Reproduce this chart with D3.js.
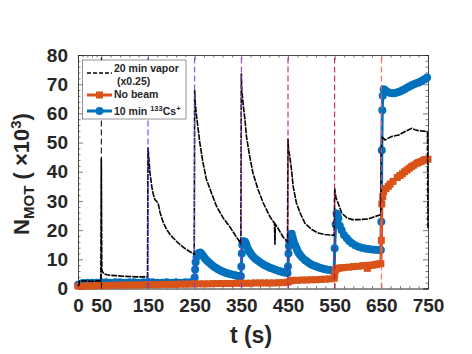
<!DOCTYPE html>
<html>
<head>
<meta charset="utf-8">
<script src="https://cdn.jsdelivr.net/npm/d3@7"></script>
<style>
  body { margin: 0; background: #fff; }
  text { font-family: "Liberation Sans", Arial, sans-serif; font-weight: bold; fill: #262626; }
</style>
</head>
<body>
<div id="chart"></div>
<script>
// 20 min vapor (x0.25)
var vaporT = [0, 2, 3, 10, 20, 30, 40, 49, 50, 51, 53, 56, 62, 70, 80, 95, 110, 125, 140, 149,
  150, 152, 154, 158, 161, 165, 168, 172, 176, 183, 190, 197, 204, 211, 219, 226, 233, 240, 249,
  250, 251, 254, 258, 261, 268, 275, 286, 297, 311, 326, 340, 349,
  350, 351, 354, 358, 361, 368, 375, 386, 397, 411, 421, 422, 423, 426, 440, 449,
  450, 451, 454, 458, 461, 468, 476, 486, 501, 515, 529, 549,
  550, 551, 553, 558, 565, 576, 587, 601, 622, 637, 649,
  650, 651, 658, 672, 687, 701, 715, 722, 729, 747, 749, 750];
var vaporN = [0.8, 1.2, 2.5, 2.6, 2.6, 2.5, 2.6, 2.6, 44.6, 6.5, 5.6, 5.0, 4.7, 4.5, 4.4, 4.2, 4.1, 4.0, 4.0, 4.0,
  48.4, 44.1, 40.0, 35.0, 32.5, 30.4, 30.0, 29.0, 25.9, 22.5, 20.2, 18.6, 17.3, 16.2, 15.0, 14.1, 13.3, 12.6, 11.8,
  68.0, 64.0, 59.0, 54.0, 50.0, 43.0, 37.5, 32.7, 28.1, 24.2, 21.0, 17.5, 15.5,
  73.7, 68.0, 63.0, 57.5, 52.0, 45.2, 39.5, 33.8, 29.3, 24.7, 22.3, 15.0, 22.0, 21.3, 17.5, 16.0,
  51.4, 48.0, 45.0, 40.0, 35.0, 29.3, 25.9, 22.4, 20.2, 19.0, 18.5, 18.2,
  34.3, 33.0, 31.0, 29.0, 25.9, 24.2, 23.6, 23.6, 23.8, 24.7, 25.3,
  47.5, 52.0, 50.9, 52.1, 52.6, 53.8, 54.9, 54.4, 54.1, 53.8, 53.5, 20.5];

// No beam
var noBeamT = [0, 10, 20, 30, 40, 50, 60, 70, 80, 90, 100, 110, 120, 130, 140, 150, 160, 170, 180, 190,
  200, 210, 220, 230, 240, 250, 260, 270, 280, 290, 300, 310, 320, 330, 340, 350, 360, 370, 380, 390,
  400, 410, 420, 430, 440, 450, 455, 460, 470, 480, 490, 500, 510, 520, 530, 540, 549,
  550, 551, 553, 556, 560, 565, 570, 580, 590, 600, 610, 618, 620, 625, 630, 635, 640, 645, 649,
  650, 651, 653, 655, 660, 665, 669, 675, 684, 690, 695, 700, 705, 710, 715, 720, 726, 730, 735, 740, 744, 750];
var noBeamN = [0.8, 0.8, 0.9, 0.9, 1.0, 1.0, 1.0, 1.1, 1.1, 1.1, 1.2, 1.2, 1.2, 1.2, 1.3, 1.3, 1.3, 1.3, 1.4, 1.4,
  1.4, 1.4, 1.5, 1.5, 1.5, 1.6, 1.6, 1.6, 1.6, 1.7, 1.7, 1.7, 1.7, 1.7, 1.8, 1.8, 1.8, 1.8, 1.9, 1.9,
  1.9, 1.9, 1.9, 2.0, 2.0, 2.2, 2.6, 2.8, 2.8, 2.9, 2.9, 3.0, 3.0, 3.1, 3.2, 3.3, 3.5,
  4.5, 6.0, 6.6, 6.9, 7.0, 7.1, 7.2, 7.3, 7.5, 7.6, 7.8, 7.9, 6.9, 7.9, 8.0, 8.1, 8.3, 8.4, 8.5,
  16.5, 29.0, 31.5, 33.2, 34.2, 35.0, 35.8, 36.7, 38.0, 38.7, 39.3, 40.0, 40.6, 41.2, 41.8, 42.3, 42.9, 43.2, 43.5, 43.9, 44.2, 44.3];

// 10 min 133Cs+
var csT = [0, 10, 20, 30, 40, 50, 60, 70, 80, 90, 100, 110, 120, 130, 140, 150, 160, 170, 180, 190,
  200, 210, 220, 230, 240, 249,
  250, 251, 252, 254, 256, 258, 260, 262, 264, 266, 269, 272, 276, 280, 285, 290, 295, 300, 305, 310, 315, 320, 325, 330, 335, 340, 345, 349,
  350, 351, 352, 353, 355, 358, 360, 362, 365, 368, 371, 375, 380, 385, 390, 395, 400, 405, 410, 415, 420, 425, 430, 435, 440, 445, 449,
  450, 451, 452, 453, 456, 458, 460, 462, 465, 468, 470, 473, 476, 480, 486, 490, 495, 500, 505, 510, 515, 520, 525, 530, 535, 540, 545, 549,
  550, 552, 554, 556, 558, 561, 565, 570, 576, 581, 587, 594, 601, 608, 615, 622, 630, 637, 644, 649,
  650, 651, 652, 653, 655, 658, 660, 665, 670, 675, 680, 685, 690, 695, 700, 705, 710, 715, 720, 725, 730, 735, 740, 744, 748];
var csN = [1.3, 1.9, 2.0, 2.0, 2.0, 2.1, 2.1, 2.0, 2.1, 2.1, 2.0, 2.1, 2.1, 2.0, 2.1, 2.2, 2.1, 2.0, 2.0, 2.1,
  2.0, 2.1, 2.0, 2.1, 2.1, 2.2,
  3.8, 6.5, 9.0, 10.8, 11.5, 12.0, 12.2, 12.3, 12.0, 11.6, 11.0, 10.3, 9.6, 9.0, 8.3, 7.6, 7.1, 6.6, 6.2, 5.8, 5.5, 5.2, 5.0, 4.8, 4.6, 4.4, 4.3, 4.2,
  7.5, 12.0, 15.0, 15.8, 16.2, 16.0, 15.3, 14.5, 13.4, 12.5, 11.7, 11.0, 10.2, 9.6, 9.0, 8.5, 8.0, 7.6, 7.2, 6.9, 6.6, 6.3, 6.0, 5.8, 5.6, 5.4, 5.3,
  7.5, 12.0, 14.5, 16.0, 18.4, 18.8, 17.5, 16.3, 15.0, 13.9, 13.0, 12.2, 11.5, 10.7, 9.8, 9.3, 8.7, 8.2, 7.9, 7.6, 7.3, 7.0, 6.8, 6.6, 6.4, 6.3, 6.1, 6.0,
  13.8, 22.0, 25.7, 25.0, 24.0, 21.5, 20.0, 18.3, 17.2, 16.3, 15.5, 14.8, 14.3, 14.0, 13.7, 13.5, 13.4, 13.3, 13.2, 13.2,
  22.9, 47.4, 61.1, 66.0, 68.3, 68.0, 67.5, 67.2, 67.0, 66.9, 67.0, 67.2, 67.5, 67.9, 68.3, 68.8, 69.2, 69.6, 70.0, 70.3, 70.6, 71.0, 71.4, 71.8, 72.3];

// dashed markers at the exposure times
var eventT = [50, 150, 250, 350, 450, 550, 650];
var eventColors = ["#000000", "#3b3bf5", "#6a3ee6", "#8b2fc0", "#9c0f86", "#b5105a", "#ff5a5a"];

var xTicks = [0, 50, 150, 250, 350, 450, 550, 650, 750];
var yTicks = [0, 10, 20, 30, 40, 50, 60, 70, 80];

var blue = "#0072BD", orange = "#D95319", ink = "#262626";

function zip(ts, vs) {
  return ts.map(function (t, i) { return { t: t, v: vs[i] }; });
}

var svg = d3.select("#chart").append("svg")
  .attr("width", 472)
  .attr("height", 354);

var x = d3.scaleLinear().domain([0, 750]).range([78, 428]);
var y = d3.scaleLinear().domain([0, 80]).range([288.5, 55]);

var xMinor = d3.range(10, 50, 10).concat(d3.range(70, 750, 20).filter(function (d) { return xTicks.indexOf(d) < 0; }));
var yMinor = d3.range(0, 80, 2).filter(function (d) { return d % 10 !== 0; });

function styleAxis(g) {
  g.selectAll("path, line").attr("stroke", ink).attr("stroke-width", 0.6);
  g.selectAll("text").attr("fill", ink).style("font-size", "19px").style("font-weight", "bold");
}

// major + minor ticks on all four sides, pointing inward
svg.append("g").attr("transform", "translate(0," + y(0) + ")")
  .call(d3.axisBottom(x).tickValues(xTicks).tickSizeInner(-5).tickSizeOuter(0).tickPadding(10).tickFormat(d3.format("d")))
  .call(styleAxis);
svg.append("g").attr("transform", "translate(0," + y(0) + ")")
  .call(d3.axisBottom(x).tickValues(xMinor).tickSize(-2.5).tickFormat(""))
  .call(styleAxis);
svg.append("g").attr("transform", "translate(0," + y(80) + ")")
  .call(d3.axisTop(x).tickValues(xTicks).tickSize(-5).tickFormat(""))
  .call(styleAxis);
svg.append("g").attr("transform", "translate(0," + y(80) + ")")
  .call(d3.axisTop(x).tickValues(xMinor).tickSize(-2.5).tickFormat(""))
  .call(styleAxis);
svg.append("g").attr("transform", "translate(" + x(0) + ",0)")
  .call(d3.axisLeft(y).tickValues(yTicks).tickSizeInner(-5).tickSizeOuter(0).tickPadding(10))
  .call(styleAxis);
svg.append("g").attr("transform", "translate(" + x(0) + ",0)")
  .call(d3.axisLeft(y).tickValues(yMinor).tickSize(-2.5).tickFormat(""))
  .call(styleAxis);
svg.append("g").attr("transform", "translate(" + x(750) + ",0)")
  .call(d3.axisRight(y).tickValues(yTicks).tickSize(-5).tickFormat(""))
  .call(styleAxis);
svg.append("g").attr("transform", "translate(" + x(750) + ",0)")
  .call(d3.axisRight(y).tickValues(yMinor).tickSize(-2.5).tickFormat(""))
  .call(styleAxis);

var line = d3.line()
  .x(function (d) { return x(d.t); })
  .y(function (d) { return y(d.v); });

var cs = zip(csT, csN), noBeam = zip(noBeamT, noBeamN), vapor = zip(vaporT, vaporN);

// Cs+ series
svg.append("path").datum(cs)
  .attr("d", line).attr("fill", "none")
  .attr("stroke", blue).attr("stroke-width", 3);
svg.append("g").selectAll("circle")
  .data(cs)
.enter().append("circle")
  .attr("cx", function (d) { return x(d.t); })
  .attr("cy", function (d) { return y(d.v); })
  .attr("r", 4)
  .attr("fill", blue);

// no beam series
svg.append("path").datum(noBeam)
  .attr("d", line).attr("fill", "none")
  .attr("stroke", orange).attr("stroke-width", 3);
svg.append("g").selectAll("rect")
  .data(noBeam)
.enter().append("rect")
  .attr("x", function (d) { return x(d.t) - 3.5; })
  .attr("y", function (d) { return y(d.v) - 3.5; })
  .attr("width", 7).attr("height", 7)
  .attr("fill", orange);

// vapor series
svg.append("path").datum(vapor)
  .attr("d", line).attr("fill", "none")
  .attr("stroke", "#000").attr("stroke-width", 1.6)
  .attr("stroke-dasharray", "6,1");

// exposure markers
svg.append("g").selectAll("line")
  .data(eventT)
.enter().append("line")
  .attr("x1", function (d) { return x(d); })
  .attr("x2", function (d) { return x(d); })
  .attr("y1", y(0)).attr("y2", y(80))
  .attr("stroke", function (d, i) { return eventColors[i]; })
  .attr("stroke-width", 1)
  .attr("stroke-dasharray", "6,3");

// legend
var lg = svg.append("g");
lg.append("rect")
  .attr("x", 82.5).attr("y", 60).attr("width", 103.5).attr("height", 59)
  .attr("fill", "#fff").attr("stroke", ink).attr("stroke-width", 0.5);
lg.append("line").attr("x1", 87).attr("x2", 112).attr("y1", 73).attr("y2", 73)
  .attr("stroke", "#000").attr("stroke-width", 1.4).attr("stroke-dasharray", "4,2");
lg.append("line").attr("x1", 87).attr("x2", 112).attr("y1", 95).attr("y2", 95)
  .attr("stroke", orange).attr("stroke-width", 3);
lg.append("rect").attr("x", 96).attr("y", 91.5).attr("width", 7).attr("height", 7).attr("fill", orange);
lg.append("line").attr("x1", 87).attr("x2", 112).attr("y1", 111).attr("y2", 111)
  .attr("stroke", blue).attr("stroke-width", 3);
lg.append("circle").attr("cx", 99.5).attr("cy", 111).attr("r", 4).attr("fill", blue);

lg.append("text").attr("x", 114).attr("y", 72).style("font-size", "10.5px").text("20 min vapor");
lg.append("text").attr("x", 117).attr("y", 84.5).style("font-size", "10.5px").text("(x0.25)");
lg.append("text").attr("x", 114).attr("y", 98).style("font-size", "10.5px").text("No beam");
var cst = lg.append("text").attr("x", 114).attr("y", 114.5).style("font-size", "10.5px");
cst.append("tspan").text("10 min ");
cst.append("tspan").attr("dy", -4).style("font-size", "7.5px").text("133");
cst.append("tspan").attr("dy", 4).text("Cs");
cst.append("tspan").attr("dy", -4).style("font-size", "7.5px").text("+");

// axis titles
svg.append("text")
  .attr("x", 251).attr("y", 343)
  .attr("text-anchor", "middle")
  .style("font-size", "23px")
  .text("t (s)");

var yl = svg.append("text")
  .attr("transform", "translate(29,174) rotate(-90)")
  .attr("text-anchor", "middle")
  .style("font-size", "22px");
yl.append("tspan").text("N");
yl.append("tspan").attr("dy", 5).style("font-size", "15px").text("MOT");
yl.append("tspan").attr("dy", -5).text(" ( \u00d710");
yl.append("tspan").attr("dy", -8).style("font-size", "15px").text("3");
yl.append("tspan").attr("dy", 8).text(")");
</script>
</body>
</html>
